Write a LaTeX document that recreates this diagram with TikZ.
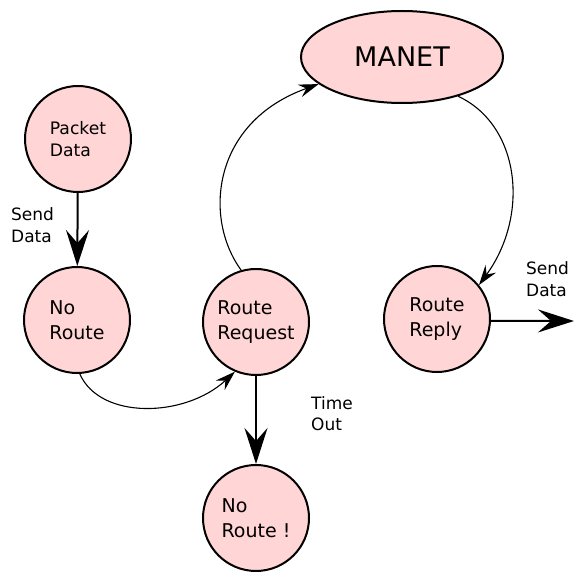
\documentclass[tikz,border=0pt]{standalone}
\usepackage{fontspec}
\setmainfont{DejaVu Sans}
\usetikzlibrary{arrows.meta,shapes.geometric}
\definecolor{statefill}{RGB}{255,213,213}
\tikzset{
  state/.style={circle,draw=black,line width=2pt,fill=statefill,minimum size=106pt,inner sep=0pt,align=left,font=\fontsize{19}{25.5}\selectfont},
  smallstate/.style={state,font=\fontsize{17.2}{22}\selectfont},
  lbl/.style={anchor=base west,inner sep=0pt,align=left,font=\fontsize{17}{21.5}\selectfont},
  thick arrow/.style={line width=2pt,-{Stealth[length=36pt,width=23pt,inset=13pt]}},
  thin arrow/.style={line width=1.1pt,-{Stealth[length=20pt,width=13pt,inset=7pt]}}
}
\begin{document}
\begin{tikzpicture}[x=1pt,y=-1pt]
\useasboundingbox (0,0) rectangle (574,572);
\node[smallstate] (pd) at (78,139) {Packet\\Data};
\node[state] (nr) at (77,320) {No\\Route};
\node[state] (rq) at (256,322) {Route\\Request};
\node[state] (rp) at (437,319) {Route\\Reply};
\node[state] (nr2) at (256,518) {No\\Route !};
\node[ellipse,draw=black,line width=2pt,fill=statefill,minimum width=202pt,minimum height=92pt,inner sep=0pt,font=\fontsize{27}{32}\selectfont] (manet) at (402,57) {MANET};
\coordinate (out) at (574,321);

\node[lbl] (l1) at (11,242.5) {Send\\Data};
\node[lbl] (l2) at (311,431) {Time\\Out};
\node[lbl] (l3) at (526,296.5) {Send\\Data};

\draw[thick arrow] (pd) -- (nr);
\draw[thick arrow] (rq) -- (nr2);
\draw[thick arrow] (rp.-2) -- (out);
\draw[thin arrow] (nr.-87) .. controls (100,420) and (185,418) .. (rq.-113);
\draw[thin arrow] (rq.106) .. controls (203,218) and (212,122) .. (manet.198);
\draw[thin arrow] (manet.-35) .. controls (520,125) and (530,215) .. (rp.39);
\end{tikzpicture}
\end{document}
